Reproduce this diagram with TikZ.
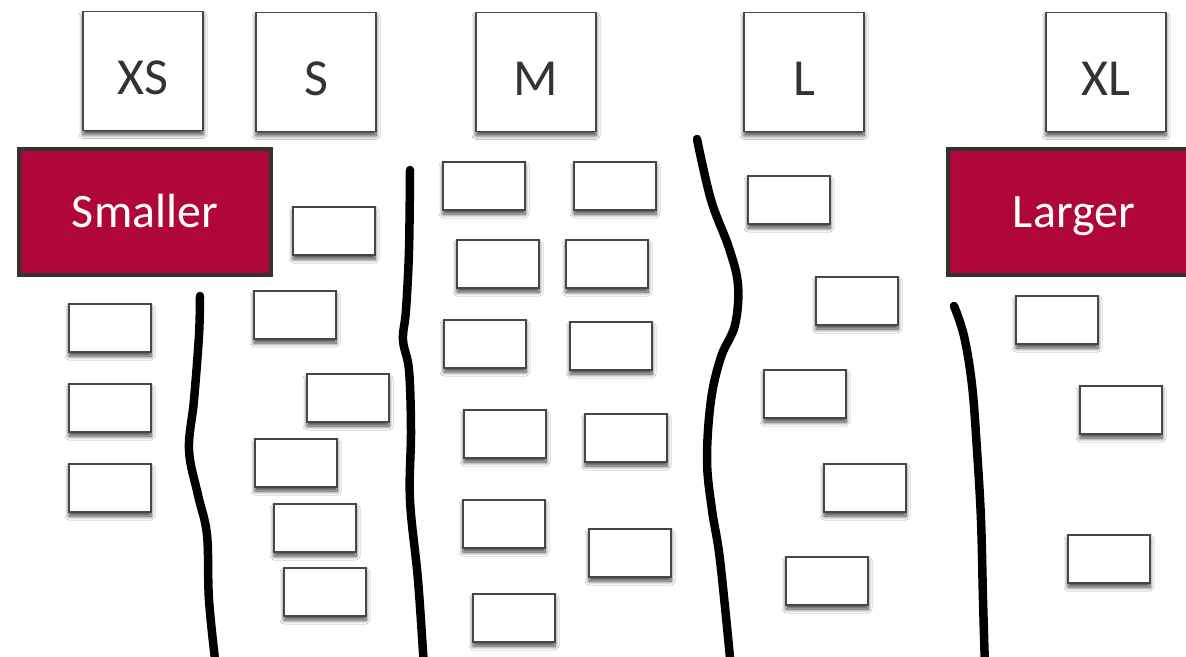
\documentclass[tikz,border=0pt]{standalone}
\usepackage{fontspec}
\setmainfont{Carlito}
\usepackage{tikz}
\usetikzlibrary{shadows.blur}
\definecolor{tagred}{RGB}{176,6,58}
\definecolor{edgegray}{RGB}{70,70,70}
\definecolor{inkgray}{RGB}{51,51,51}

\begin{document}
\begin{tikzpicture}[x=1pt,y=-1pt,
  card/.style={draw=edgegray, line width=1.8pt, fill=white, minimum width=82pt, minimum height=48pt, inner sep=0pt,
    blur shadow={shadow xshift=0pt, shadow yshift=-4pt, shadow blur steps=8, shadow blur radius=4pt, shadow opacity=75}},
  sizebox/.style={card, minimum width=120pt, minimum height=119pt, text=inkgray,
    font=\fontsize{52}{58}\selectfont, text height=46pt, text depth=0pt},
  tag/.style={draw=inkgray, line width=4pt, fill=tagred, text=white, minimum width=252pt, minimum height=126pt,
    inner sep=0pt, font=\fontsize{48}{54}\selectfont, text height=31pt, text depth=0pt},
  divider/.style={line width=8.5pt, line cap=round, line join=round}]
\useasboundingbox (0,0) rectangle (1186,656);
\fill[white] (0,0) rectangle (1186,656);
% T-shirt sizes along the top
\node[sizebox] (xs) at (143,71) {XS};
\node[sizebox] (s) at (316,72) {S};
\node[sizebox] (m) at (536,72) {M};
\node[sizebox] (l) at (804,72) {L};
\node[sizebox] (xl) at (1106,72) {XL};
% Ends of the scale
\node[tag] (smaller) at (145,212) {Smaller};
\node[tag] (larger) at (1074,212) {Larger};
% Cards: XS
\foreach \x/\y [count=\i] in {110/328, 110/408, 110/488}
  \node[card] (xs\i) at (\x,\y) {};
% Cards: S
\foreach \x/\y [count=\i] in {334/231, 295/315, 348/398, 296/463, 315/528, 325/592}
  \node[card] (s\i) at (\x,\y) {};
% Cards: M, two stacks
\foreach \x/\y [count=\i] in {484/186, 498/264, 485/344, 505/434, 504/524, 514/618}
  \node[card] (ma\i) at (\x,\y) {};
\foreach \x/\y [count=\i] in {615/186, 607/264, 611/346, 626/438, 630/553}
  \node[card] (mb\i) at (\x,\y) {};
% Cards: L
\foreach \x/\y [count=\i] in {789/200, 857/301, 805/394, 865/488, 827/581}
  \node[card] (l\i) at (\x,\y) {};
% Cards: XL
\foreach \x/\y [count=\i] in {1057/320, 1121/410, 1109/559}
  \node[card] (xl\i) at (\x,\y) {};
% Hand-drawn dividers
\draw[divider] plot[smooth, tension=0.6] coordinates {(200,296) (199,335) (194,400) (189,450) (198,495) (207,535) (209,600) (216,668)};
\draw[divider] plot[smooth, tension=0.6] coordinates {(410,170) (409,250) (406,310) (403,340) (409,370) (411,430) (410,500) (418,580) (424,668)};
\draw[divider] plot[smooth, tension=0.6] coordinates {(697,139) (711,200) (729,248) (738,285) (735,325) (721,357) (711,400) (707,460) (712,510) (720,560) (731,668)};
\draw[divider] plot[smooth, tension=0.6] coordinates {(954,306) (964,336) (972,385) (977,450) (981,520) (983,600) (985,668)};
\end{tikzpicture}
\end{document}
